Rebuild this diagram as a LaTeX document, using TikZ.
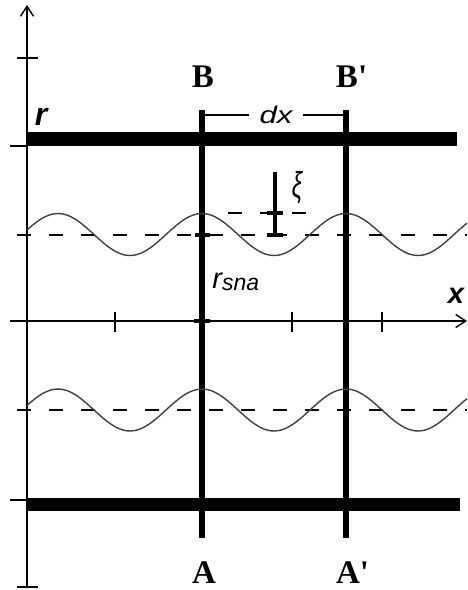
\documentclass[tikz,border=0pt]{standalone}
\usepackage{fontspec}
\setmainfont{Liberation Serif}
\setsansfont{Liberation Sans}
\usetikzlibrary{arrows.meta}
\tikzset{
  axis/.style={line width=0.7pt},
  sect/.style={line width=2.6pt},
  wall/.style={line width=6.8pt},
  wave/.style={line width=0.7pt,black!75},
  level/.style={line width=0.7pt,dash pattern=on 7pt off 9pt},
  bar/.style={line width=2.2pt},
  seclabel/.style={anchor=base,inner sep=0pt,font=\fontsize{16.5}{18}\selectfont\bfseries},
  varlabel/.style={inner sep=0pt,font=\fontsize{12}{14}\selectfont\sffamily\itshape}
}
\begin{document}
\begin{tikzpicture}[x=0.5pt,y=-0.5pt,>={Straight Barb[length=5pt,width=6.5pt]}]
\useasboundingbox (0,0) rectangle (467,590);

% axes
\coordinate (o) at (27,321);
\draw[axis,->] (27,587) -- (27,5);
\draw[axis,->] (10,321) -- (467,321);
\foreach \y/\a/\b in {58/17/38,146/10/27,500/10/27,587/17/38}
  \draw[axis] (\a,\y) -- (\b,\y);
\foreach \x in {115,292,382}
  \draw[axis] (\x,312) -- (\x,332);

% walls of the tube
\draw[wall] (27,139) -- (457,139);
\draw[wall] (28,504.5) -- (460,504.5);

% sections
\coordinate (Btop) at (202,110);
\coordinate (Abot) at (202,538);
\coordinate (B'top) at (346,110);
\coordinate (A'bot) at (346,538);
\draw[sect] (Btop) -- (Abot);
\draw[sect] (B'top) -- (A'bot);

\node[seclabel] (B) at (203,87) {B};
\node[seclabel] (B') at (347,87) {B\rlap{\textquotesingle}};
\node[seclabel] (A) at (204,583) {A};
\node[seclabel] (A') at (348,583) {A\rlap{\textquotesingle}};

% dx
\node[varlabel,inner xsep=5pt,minimum height=14pt] (dx) at (276,115) {\scalebox{1.3}[1]{dx}};
\coordinate (dimL) at (205,115);
\coordinate (dimR) at (345,115);
\draw[axis] (dimL) -- (dimL -| dx.west);
\draw[axis] (dx.east |- dimR) -- (dimR);

% mean levels and waves
\draw[level] (17,235) -- (467,235);
\draw[level] (17,410) -- (467,410);
\draw[level] (228,213) -- (306,213);
\draw[wave] plot[domain=27:467,samples=120,smooth] (\x,{234.5-21*cos((\x-202)/144*360)});
\draw[wave] plot[domain=27:467,samples=120,smooth] (\x,{410-21*cos((\x-202)/144*360)});

% marks on section B
\draw[bar] (195,235) -- (210,235);
\draw[bar] (194,321) -- (210,321);

% displacement xi
\coordinate (xitop) at (275,172);
\coordinate (xibot) at (275,235);
\draw[bar] (xitop) -- (xibot);
\draw[bar] (267,213) -- (283,213);
\draw[bar] (267,235) -- (283,235);
\node[varlabel,font=\fontsize{18}{20}\selectfont\sffamily\itshape] (xi) at (297,188) {\scalebox{0.65}[1]{ξ}};

% labels
\node[varlabel,anchor=base,font=\fontsize{16}{18}\selectfont\sffamily\bfseries\itshape] (r) at (41,125) {r};
\node[varlabel,anchor=base,font=\fontsize{14.5}{18}\selectfont\sffamily\bfseries\itshape] (xlab) at (456,303) {x};
\node[varlabel,anchor=base west,font=\fontsize{14.5}{18}\selectfont\sffamily\itshape] (rsna) at (212,288)
  {r\raisebox{-1pt}{\fontsize{11.5}{14}\selectfont sna}};
\end{tikzpicture}
\end{document}
